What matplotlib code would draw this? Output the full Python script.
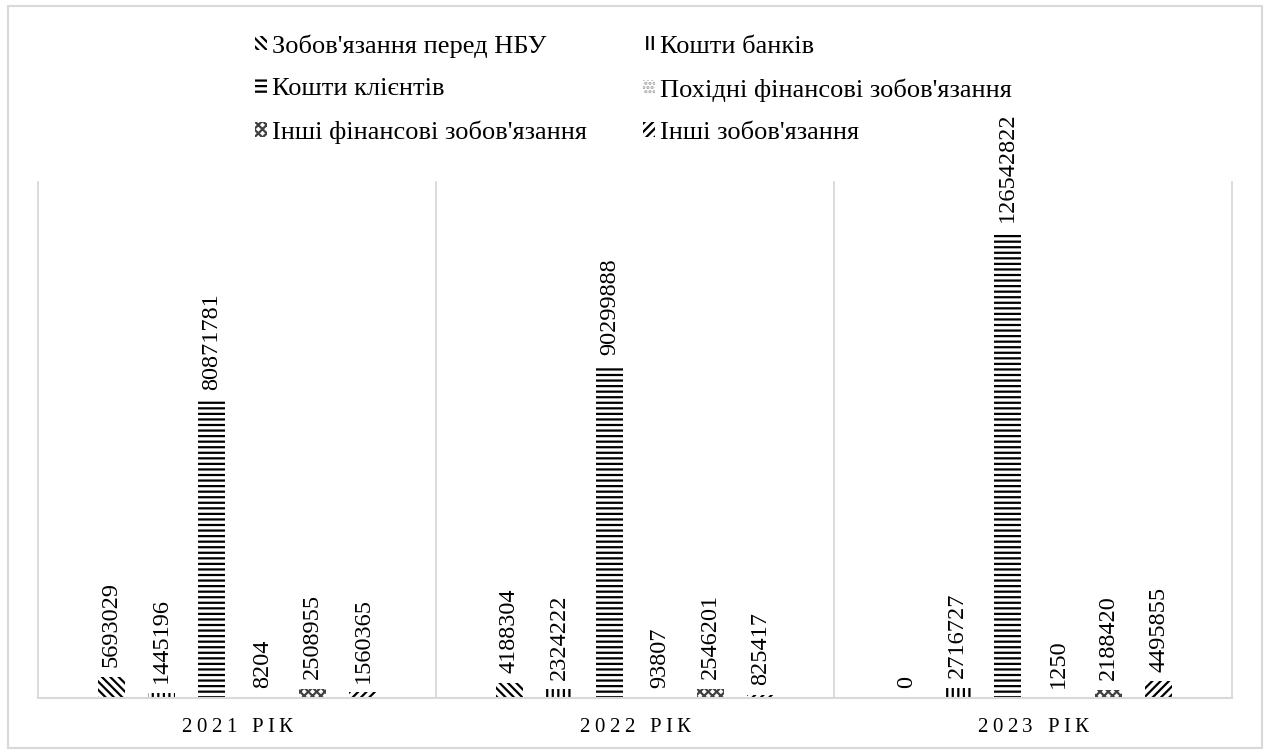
import numpy as np
import matplotlib.pyplot as plt
from matplotlib.patches import Patch, Rectangle
from matplotlib.font_manager import FontProperties, findfont, get_font

plt.rcParams['font.family'] = ['Liberation Serif', 'DejaVu Serif']
plt.rcParams['hatch.linewidth'] = 1.6

years = ['2021 РІК', '2022 РІК', '2023 РІК']
series_names = [
    "Зобов'язання перед НБУ",
    'Кошти банків',
    'Кошти клієнтів',
    "Похідні фінансові зобов'язання",
    "Інші фінансові зобов'язання",
    "Інші зобов'язання",
]
nbu = [5693029, 4188304, 0]
banks = [1445196, 2324222, 2716727]
clients = [80871781, 90299888, 126542822]
derivatives = [8204, 93807, 1250]
other_fin = [2508955, 2546201, 2188420]
other = [1560365, 825417, 4495855]

values = [nbu, banks, clients, derivatives, other_fin, other]
hatches = ['\\\\\\\\', '|||', '---', '....', 'xxxx', '////']
hatch_colors = ['black', 'black', 'black', '#a6a6a6', '#404040', 'black']

fig = plt.figure(figsize=(12.66, 7.53), dpi=100)
ax = fig.add_axes([38 / 1266, 55 / 753, 1194 / 1266, 516 / 753])

x = np.arange(len(years))
step = 0.1266
width = 0.068

for i, vals in enumerate(values):
    pos = x + (i - 2.5) * step
    ax.bar(pos, vals, width, color='white', edgecolor=hatch_colors[i],
           linewidth=0, hatch=hatches[i])
    for xp, v in zip(pos, vals):
        ax.annotate(str(v), (xp, v), xytext=(0, 7), textcoords='offset points',
                    rotation=90, ha='center', va='bottom', fontsize=17.5)

ax.set_xlim(-0.5, 2.5)
ax.set_ylim(0, 140000000)
ax.set_yticks([])
ax.set_xticks([])
for side in ['left', 'right', 'top']:
    ax.spines[side].set_visible(False)
ax.spines['bottom'].set_color('#d9d9d9')
ax.spines['bottom'].set_linewidth(1.5)

# separators between the year groups
for b in [-0.5, 0.5, 1.5, 2.5]:
    ax.axvline(b, color='#d9d9d9', linewidth=1.3, clip_on=False)

# year captions with wide letter spacing, one glyph at a time
fp = FontProperties(family='Liberation Serif', size=15)
font = get_font(findfont(fp))
font.set_size(15, 100)
tracking = 4.5
for xc, label in zip(x, years):
    adv = [font.load_char(ord(ch)).linearHoriAdvance / 65536 for ch in label]
    total = sum(adv) + tracking * (len(label) - 1)
    dx = -total / 2
    for ch, w in zip(label, adv):
        if ch != ' ':
            ax.annotate(ch, (xc, 0), xycoords=('data', 'axes fraction'),
                        xytext=(dx, -20), textcoords='offset pixels',
                        ha='left', va='top', fontproperties=fp)
        dx += w + tracking

handles = [Patch(facecolor='white', edgecolor=hatch_colors[i], linewidth=0,
                 hatch=hatches[i], label=series_names[i]) for i in range(6)]
order = [0, 2, 4, 1, 3, 5]
fig.legend([handles[i] for i in order], [series_names[i] for i in order],
           loc='upper left', bbox_to_anchor=(242 / 1266, 1 - 21 / 753),
           ncol=2, frameon=False, fontsize=19, handlelength=0.45, handleheight=0.45,
           handletextpad=0.2, columnspacing=2.1, labelspacing=0.77, borderpad=0)

# outer frame of the chart
fig.patches.append(Rectangle((8 / 1266, 5 / 753), 1254 / 1266, 742 / 753,
                             transform=fig.transFigure, fill=False,
                             edgecolor='#d9d9d9', linewidth=1.5))

fig.savefig('out.png', dpi=100)
